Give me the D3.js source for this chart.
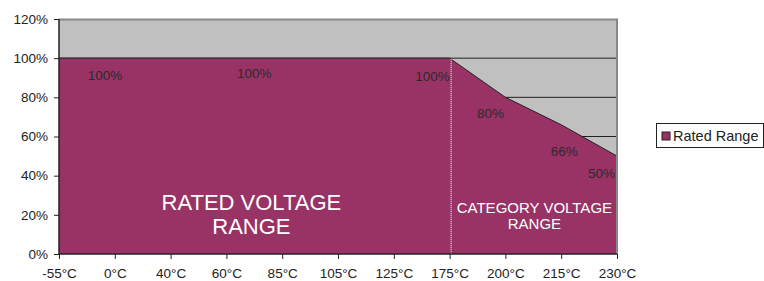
<!DOCTYPE html>
<html>
<head>
<meta charset="utf-8">
<script src="https://cdn.jsdelivr.net/npm/d3@7"></script>
<style>
  body { margin: 0; background: #fff; }
  svg { display: block; font-family: "Liberation Sans", Arial, sans-serif; }
</style>
</head>
<body>
<svg id="chart" width="764" height="281"></svg>
<script>
// temperature categories and rated voltage (% of rated)
const temps = ['-55°C', '0°C', '40°C', '60°C', '85°C', '105°C', '125°C', '175°C', '200°C', '215°C', '230°C'];
const rated = [100, 100, 100, 100, 100, 100, 100, 100, 80, 66, 50];
const yTicks = [0, 20, 40, 60, 80, 100, 120];
const seriesName = 'Rated Range';

// data labels: which point they belong to and the value shown
const labelAt = ['-55°C', '85°C', '175°C', '200°C', '215°C', '230°C'];
const labelVal = [100, 100, 100, 80, 66, 50];
// nudges so labels sit inside the area like the original
const labelNudge = [[46, 17], [-28, 15], [-17, 18], [-15, 16], [3, 27], [-15.5, 17]];

const margin = { top: 19, right: 147, bottom: 27, left: 59 };
const W = 764, H = 281;
const w = W - margin.left - margin.right;
const h = H - margin.top - margin.bottom;

const plum = '#993366';
const svg = d3.select('#chart');
const g = svg.append('g').attr('transform', `translate(${margin.left},${margin.top})`);

const x = d3.scalePoint().domain(temps).range([0, w]);
const y = d3.scaleLinear().domain([0, 120]).range([h, 0]);

// plot background
g.append('rect').attr('width', w).attr('height', h).attr('fill', '#c0c0c0');

// gridlines (sit under the area)
g.append('g').selectAll('line')
  .data(yTicks.filter(d => d > 0 && d < 120))
  .join('line')
  .attr('x1', 0).attr('x2', w)
  .attr('y1', d => y(d)).attr('y2', d => y(d))
  .attr('stroke', '#222').attr('stroke-width', 1);

const data = temps.map((t, i) => ({ t, v: rated[i] }));
const area = d3.area().x(d => x(d.t)).y0(h).y1(d => y(d.v));
g.append('path').datum(data)
  .attr('d', area)
  .attr('fill', plum);
const line = d3.line().x(d => x(d.t)).y(d => y(d.v));
g.append('path').datum(data)
  .attr('d', line)
  .attr('fill', 'none')
  .attr('stroke', '#222').attr('stroke-width', 1);

// border top and right
g.append('path')
  .attr('d', `M0,0.5H${w}V${h}`)
  .attr('fill', 'none').attr('stroke', '#888').attr('stroke-width', 2);

// dotted divider at 175°C
g.append('line')
  .attr('x1', x('175°C') + 1.5).attr('x2', x('175°C') + 1.5)
  .attr('y1', y(100) + 1).attr('y2', h)
  .attr('stroke', '#fff').attr('stroke-width', 1)
  .attr('stroke-dasharray', '1,1');

// axes
const yAxis = d3.axisLeft(y).tickValues(yTicks).tickSize(5).tickPadding(6).tickFormat(d => d + '%');
const xAxis = d3.axisBottom(x).tickSize(5).tickPadding(6);
const gy = g.append('g').call(yAxis);
const gx = g.append('g').attr('transform', `translate(0,${h})`).call(xAxis);
[gy, gx].forEach(a => {
  a.select('.domain').attr('stroke', '#222').attr('stroke-width', 1.5);
  a.selectAll('.tick line').attr('stroke', '#222');
  a.selectAll('text').attr('font-size', 13.5).attr('fill', '#222')
    .attr('font-family', '"Liberation Sans", Arial, sans-serif');
});
gx.select('.domain').attr('d', `M0,0H${w}`);
gy.select('.domain').attr('d', `M0,0V${h}`);
gx.selectAll('text').attr('dy', '0.98em');

// data labels
g.append('g').selectAll('text')
  .data(labelAt.map((t, i) => ({ t, v: labelVal[i], n: labelNudge[i] })))
  .join('text')
  .attr('x', d => x(d.t) + d.n[0])
  .attr('y', d => y(d.v) + d.n[1])
  .attr('text-anchor', 'middle')
  .attr('dominant-baseline', 'central')
  .attr('font-size', 13.5)
  .attr('fill', '#2a2a2a')
  .text(d => d.v + '%');

// region captions
const rated1 = g.append('text')
  .attr('text-anchor', 'middle')
  .attr('fill', '#fff').attr('font-size', 22);
rated1.append('tspan').attr('x', x('60°C') + 25).attr('y', 191).text('RATED VOLTAGE');
rated1.append('tspan').attr('x', x('60°C') + 25).attr('y', 215).text('RANGE');

const cat = g.append('text')
  .attr('text-anchor', 'middle')
  .attr('fill', '#fff').attr('font-size', 15);
cat.append('tspan').attr('x', x('200°C') + 29).attr('y', 194).text('CATEGORY VOLTAGE');
cat.append('tspan').attr('x', x('200°C') + 29).attr('y', 210).text('RANGE');

// legend
const lg = svg.append('g').attr('transform', 'translate(656,123)');
lg.append('rect').attr('x', 0.5).attr('y', 0.5).attr('width', 107).attr('height', 24)
  .attr('fill', '#fff').attr('stroke', '#222').attr('stroke-width', 1);
lg.append('rect').attr('x', 6).attr('y', 9).attr('width', 8).attr('height', 8)
  .attr('fill', plum).attr('stroke', '#222').attr('stroke-width', 1);
lg.append('text').attr('x', 17).attr('y', 18).attr('font-size', 14.5).attr('fill', '#222')
  .text(seriesName);
</script>
</body>
</html>
